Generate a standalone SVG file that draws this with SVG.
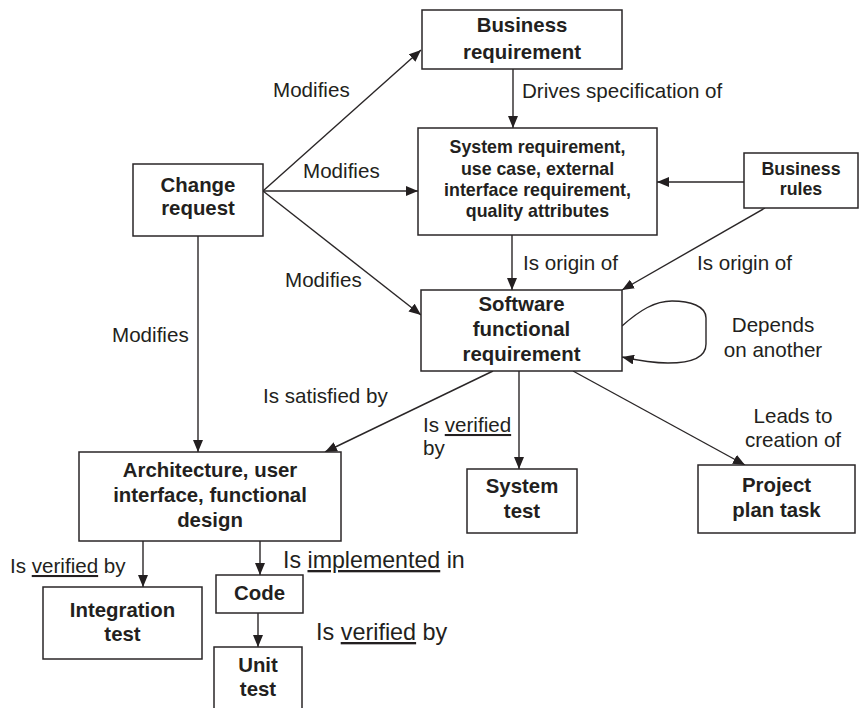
<svg xmlns="http://www.w3.org/2000/svg" width="859" height="708" viewBox="0 0 859 708">
  <style>
    .box { fill: #ffffff; stroke: #2a2627; stroke-width: 1.5; }
    .node { font-family: "Liberation Sans", Arial, sans-serif; font-weight: bold; font-size: 20.4px; fill: #231f20; text-anchor: middle; }
    .small { font-size: 17.8px; }
    .lbl { font-family: "Liberation Sans", Arial, sans-serif; font-size: 20.6px; fill: #231f20; }
    .big { font-size: 23.2px; }
    .bigger { font-size: 23.4px; }
    .mid { text-anchor: middle; }
    .u { text-decoration: underline; }
    .edge { fill: none; stroke: #2a2627; stroke-width: 1.4; marker-end: url(#arrow); }
  </style>
  <defs>
    <marker id="arrow" viewBox="0 0 12 10" refX="12" refY="5" markerWidth="12" markerHeight="10" markerUnits="userSpaceOnUse" orient="auto">
      <path d="M0,0 L12,5 L0,10 Z" fill="#231f20"/>
    </marker>
  </defs>

  <rect width="859" height="708" fill="#ffffff"/>

  <!-- connectors -->
  <g id="connectors">
    <path class="edge" d="M263,191 L421,50"/>
    <path class="edge" d="M263,191 L418,191"/>
    <path class="edge" d="M263,191 L421,315"/>
    <path class="edge" d="M198,236 L198,452"/>
    <path class="edge" d="M513,69 L513,128"/>
    <path class="edge" d="M744,182 L657,182"/>
    <path class="edge" d="M512,235 L512,290"/>
    <path class="edge" d="M765,208 L622,290"/>
    <path class="edge" d="M622,326 C640,310 655,301 672,301 C690,301 706,306 706,318 L706,344 C706,358 690,363 668,363 C650,363 636,360 622,357"/>
    <path class="edge" d="M493,371 L325,452"/>
    <path class="edge" d="M519,371 L519,469"/>
    <path class="edge" d="M573,371 L745,465"/>
    <path class="edge" d="M143,541 L143,587"/>
    <path class="edge" d="M260,541 L260,575"/>
    <path class="edge" d="M258,613 L258,647"/>
  </g>

  <!-- connector labels -->
  <g id="labels">
    <text class="lbl" x="273" y="97">Modifies</text>
    <text class="lbl" x="303" y="178">Modifies</text>
    <text class="lbl" x="285" y="287">Modifies</text>
    <text class="lbl" x="112" y="342">Modifies</text>
    <text class="lbl" x="522" y="98">Drives specification of</text>
    <text class="lbl" x="523" y="270">Is origin of</text>
    <text class="lbl" x="697" y="270">Is origin of</text>
    <text class="lbl mid" x="773" y="332">Depends</text>
    <text class="lbl mid" x="773" y="357">on another</text>
    <text class="lbl" x="263" y="403">Is satisfied by</text>
    <text class="lbl" x="423" y="432">Is <tspan class="u">verified</tspan></text>
    <text class="lbl" x="423" y="455">by</text>
    <text class="lbl mid" x="793" y="423">Leads to</text>
    <text class="lbl mid" x="793" y="447">creation of</text>
    <text class="lbl" x="10" y="573">Is <tspan class="u">verified</tspan> by</text>
    <text class="lbl big" x="283" y="568">Is <tspan class="u">implemented</tspan> in</text>
    <text class="lbl bigger" x="316" y="640">Is <tspan class="u">verified</tspan> by</text>
  </g>

  <!-- nodes -->
  <g id="business-requirement">
    <rect class="box" x="422" y="10" width="200" height="59"/>
    <text class="node" x="522" y="32">Business</text>
    <text class="node" x="522" y="59">requirement</text>
  </g>
  <g id="system-requirement">
    <rect class="box" x="418" y="128" width="239" height="107"/>
    <text class="node small" x="537.5" y="153">System requirement,</text>
    <text class="node small" x="537.5" y="174.5">use case, external</text>
    <text class="node small" x="537.5" y="196">interface requirement,</text>
    <text class="node small" x="537.5" y="217">quality attributes</text>
  </g>
  <g id="business-rules">
    <rect class="box" x="744" y="153" width="114" height="55"/>
    <text class="node small" x="801" y="175">Business</text>
    <text class="node small" x="801" y="195">rules</text>
  </g>
  <g id="change-request">
    <rect class="box" x="133" y="164" width="130" height="72"/>
    <text class="node" x="198" y="192">Change</text>
    <text class="node" x="198" y="215">request</text>
  </g>
  <g id="software-functional-requirement">
    <rect class="box" x="421" y="290" width="201" height="81"/>
    <text class="node" x="521.5" y="311">Software</text>
    <text class="node" x="521.5" y="336">functional</text>
    <text class="node" x="521.5" y="361">requirement</text>
  </g>
  <g id="architecture">
    <rect class="box" x="79" y="452" width="262" height="89"/>
    <text class="node" x="210" y="477">Architecture, user</text>
    <text class="node" x="210" y="502">interface, functional</text>
    <text class="node" x="210" y="527">design</text>
  </g>
  <g id="system-test">
    <rect class="box" x="467" y="469" width="110" height="64"/>
    <text class="node" x="522" y="493">System</text>
    <text class="node" x="522" y="518">test</text>
  </g>
  <g id="project-plan-task">
    <rect class="box" x="698" y="465" width="157" height="68"/>
    <text class="node" x="776.5" y="492">Project</text>
    <text class="node" x="776.5" y="517">plan task</text>
  </g>
  <g id="integration-test">
    <rect class="box" x="43" y="587" width="159" height="72"/>
    <text class="node" x="122.5" y="617">Integration</text>
    <text class="node" x="122.5" y="641">test</text>
  </g>
  <g id="code">
    <rect class="box" x="216" y="575" width="87" height="38"/>
    <text class="node" x="259.5" y="600">Code</text>
  </g>
  <g id="unit-test">
    <rect class="box" x="214" y="647" width="88" height="66"/>
    <text class="node" x="258" y="672">Unit</text>
    <text class="node" x="258" y="696">test</text>
  </g>
</svg>
